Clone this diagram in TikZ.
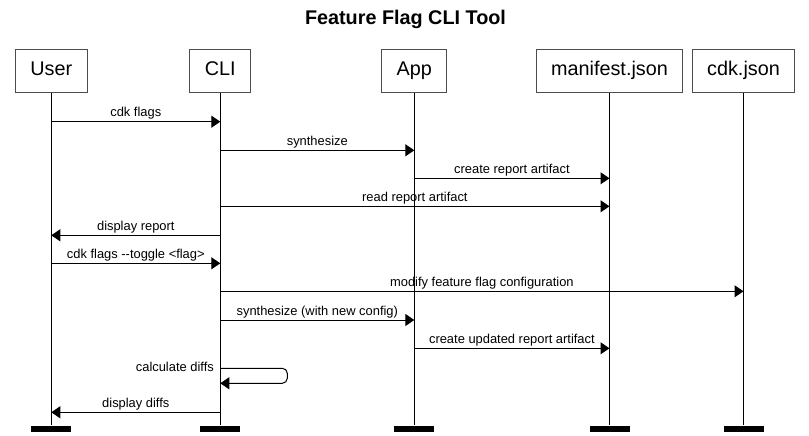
\documentclass[tikz,border=0pt]{standalone}
\usepackage{fontspec}
\setmainfont{Liberation Sans}
\usetikzlibrary{arrows.meta}

\begin{document}
\begin{tikzpicture}[x=1pt, y=-1pt, line width=1pt,
    >={Triangle[length=9pt, width=12pt]},
    participant/.style={draw = black!70, inner xsep=15pt, inner ysep=0pt,
       minimum height=43pt, text height=14pt, text depth=5pt,
       font=\fontsize{19.8}{24}\selectfont},
    endbar/.style={fill = black, inner sep=0pt, minimum width=40pt,
       minimum height=6.7pt, anchor=north},
    msg/.style={midway, above = 4.5pt, inner sep=0pt, text depth=0pt,
       font=\fontsize{12.9}{15}\selectfont}]
    \useasboundingbox (0,0) rectangle (809,436);
    \node[font=\bfseries\fontsize{19.8}{24}\selectfont, anchor=base] (title) at (405.5,24.5) {Feature Flag CLI Tool};

    % participants
    \node[participant] (user) at (51.3,71.5) {User};
    \node[participant] (cli) at (220.3,71.5) {CLI};
    \node[participant] (app) at (414.3,71.5) {App};
    \node[participant] (manifest) at (609.5,71.5) {manifest.json};
    \node[participant] (cdk) at (743.5,71.5) {cdk.json};

    % lifelines and their end bars
    \coordinate (end) at (0,425);
    \node[endbar] (userEnd) at (user |- end) {};
    \node[endbar] (cliEnd) at (cli |- end) {};
    \node[endbar] (appEnd) at (app |- end) {};
    \node[endbar] (manifestEnd) at (manifest |- end) {};
    \node[endbar] (cdkEnd) at (cdk |- end) {};
    \draw (user) -- (userEnd);
    \draw (cli) -- (cliEnd);
    \draw (app) -- (appEnd);
    \draw (manifest) -- (manifestEnd);
    \draw (cdk) -- (cdkEnd);

    % messages
    \coordinate (m1) at (0,121.7);
    \coordinate (m2) at (0,150.3);
    \coordinate (m3) at (0,178.3);
    \coordinate (m4) at (0,206.3);
    \coordinate (m5) at (0,235.3);
    \coordinate (m6) at (0,263.3);
    \coordinate (m7) at (0,291.3);
    \coordinate (m8) at (0,320);
    \coordinate (m9) at (0,348.3);
    \coordinate (m10) at (0,368.3);
    \coordinate (m11) at (0,412.3);
    \draw[->] (user |- m1) -- (cli |- m1) node[msg] {cdk flags};
    \draw[->] (cli |- m2) -- (app |- m2) node[msg] {synthesize};
    \draw[->] (app |- m3) -- (manifest |- m3) node[msg] {create report artifact};
    \draw[->] (cli |- m4) -- (manifest |- m4) node[msg] {read report artifact};
    \draw[->] (cli |- m5) -- (user |- m5) node[msg] {display report};
    \draw[->] (user |- m6) -- (cli |- m6) node[msg] {cdk flags {-}{-}toggle <flag>};
    \draw[->] (cli |- m7) -- (cdk |- m7) node[msg] {modify feature flag configuration};
    \draw[->] (cli |- m8) -- (app |- m8) node[msg] {synthesize (with new config)};
    \draw[->] (app |- m9) -- (manifest |- m9) node[msg] {create updated report artifact};
    % self call on the CLI
    \draw[->, rounded corners = 5pt] (cli |- m10)
       node[anchor = base east, xshift = -6pt, yshift = -3pt, inner sep=0pt, font=\fontsize{12.9}{15}\selectfont] {calculate diffs}
       -- ++(67,0) -- ++(0,15) -- ++(-67,0);
    \draw[->] (cli |- m11) -- (user |- m11) node[msg] {display diffs};
\end{tikzpicture}
\end{document}
